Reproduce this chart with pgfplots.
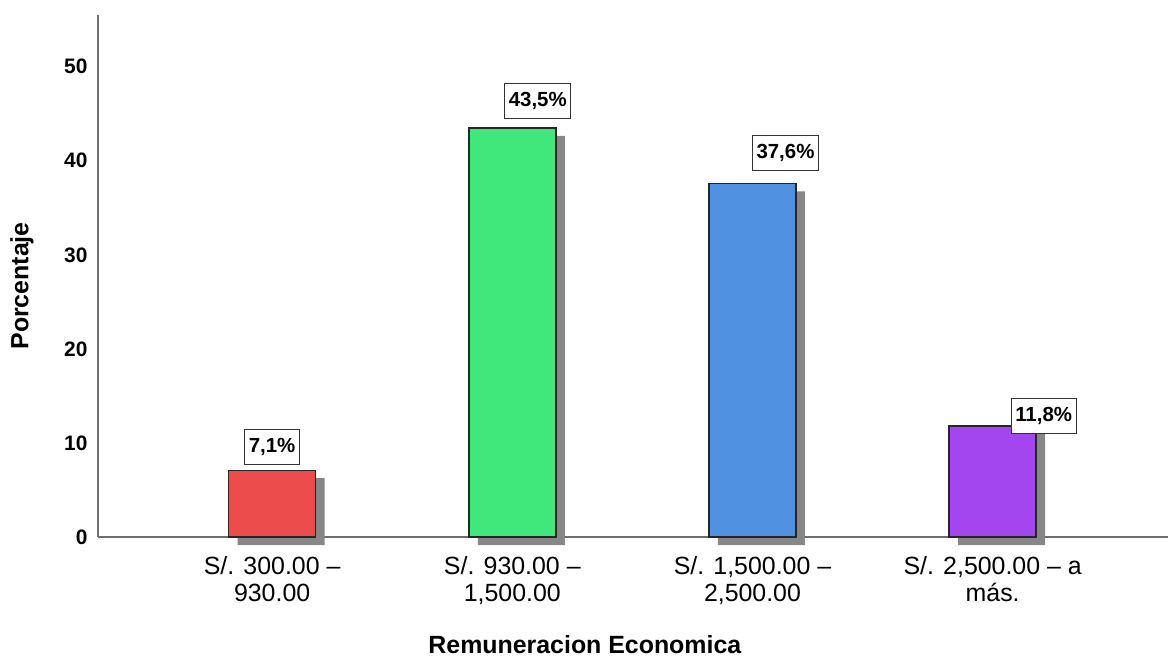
\documentclass[border=0pt]{standalone}
\usepackage{fontspec}
\setmainfont{Liberation Sans}
\usepackage{pgfplots}
\pgfplotsset{compat=1.18}
\definecolor{cred}{RGB}{235,75,75}
\definecolor{cgreen}{RGB}{64,232,124}
\definecolor{cblue}{RGB}{80,145,225}
\definecolor{cpurple}{RGB}{163,70,240}
\definecolor{shadow}{RGB}{135,135,135}
\definecolor{axisgray}{RGB}{110,110,110}
\begin{document}
\begin{tikzpicture}
\path[use as bounding box] (-98bp,-127bp) rectangle (1070bp,537bp);
\begin{axis}[
  scale only axis, width=1070bp, height=522bp,
  at={(0,0)}, anchor=south west,
  xmin=-0.725, xmax=3.73, ymin=0, ymax=55.5,
  axis x line=bottom, axis y line=left,
  axis line style={-, draw=axisgray, line width=1.6bp},
  major tick length=0pt,
  ytick={0,10,20,30,40,50},
  xtick={0,1,2,3},
  xticklabels={{S/. 300.00 –\\930.00},{S/. 930.00 –\\1,500.00},{S/. 1,500.00 –\\2,500.00},{S/. 2,500.00 – a\\más.}},
  xticklabel style={align=center, font=\fontsize{25}{27}\selectfont, yshift=-16bp},
  yticklabel style={font=\fontsize{21}{21}\selectfont\bfseries, xshift=-7bp},
  /pgf/number format/assume math mode=true,
  xlabel={Remuneracion Economica},
  xlabel style={font=\fontsize{25}{25}\selectfont\bfseries, at={(axis description cs:0.455,0)}, anchor=center, yshift=-108bp},
  ylabel={Porcentaje},
  ylabel style={font=\fontsize{25}{25}\selectfont\bfseries, at={(axis description cs:-0.071,0.481)}, anchor=center},
  clip=false,
  ybar, bar width=87bp,
]
\addplot[ybar, bar shift=0pt, fill=shadow, draw=none, xshift=9bp, yshift=-8bp] coordinates {(0,7.1) (1,43.5) (2,37.6) (3,11.8)};
\addplot[ybar, bar shift=0pt, fill=cred, draw=black!85, line width=1.4bp] coordinates {(0,7.1)};
\addplot[ybar, bar shift=0pt, fill=cgreen, draw=black!85, line width=1.4bp] coordinates {(1,43.5)};
\addplot[ybar, bar shift=0pt, fill=cblue, draw=black!85, line width=1.4bp] coordinates {(2,37.6)};
\addplot[ybar, bar shift=0pt, fill=cpurple, draw=black!85, line width=1.4bp] coordinates {(3,11.8)};
\tikzset{vlab/.style={draw=black!80, line width=1bp, fill=white, font=\fontsize{20.5}{20.5}\selectfont\bfseries, inner xsep=4bp, minimum height=35bp, anchor=center}}
\node[vlab, yshift=23.5bp] at (axis cs:0,7.1) {7,1\%};
\node[vlab, xshift=25.5bp, yshift=26.5bp] at (axis cs:1,43.5) {43,5\%};
\node[vlab, xshift=33bp, yshift=30bp] at (axis cs:2,37.6) {37,6\%};
\node[vlab, xshift=51bp, yshift=10.5bp] at (axis cs:3,11.8) {11,8\%};
\end{axis}
\end{tikzpicture}
\end{document}
